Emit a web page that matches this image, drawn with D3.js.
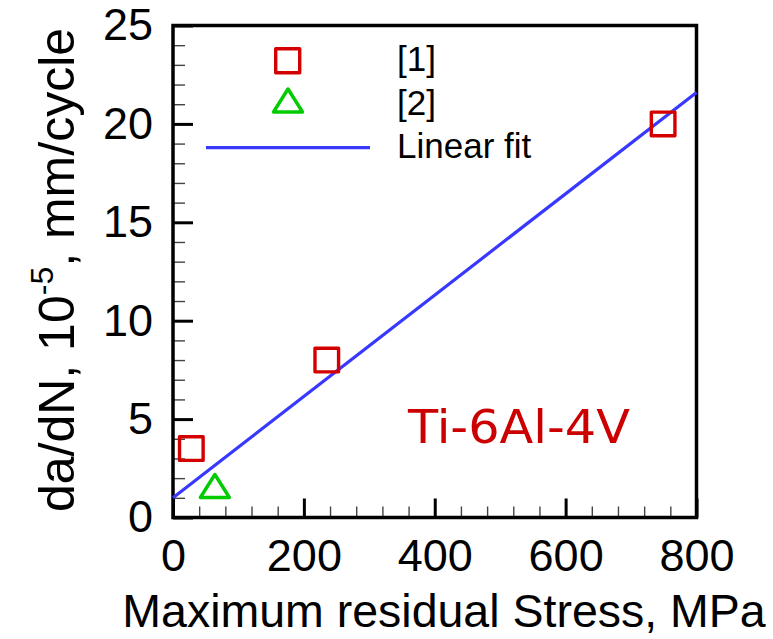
<!DOCTYPE html>
<html>
<head>
<meta charset="utf-8">
<script src="https://cdn.jsdelivr.net/npm/d3@7"></script>
<style>
  body { margin: 0; background: #fff; }
  svg { display: block; }
  .tickText { font-family: Arial, "Liberation Sans", sans-serif; font-size: 45px; fill: #000; }
  .axisTitle { font-family: Arial, "Liberation Sans", sans-serif; font-size: 46.5px; fill: #000; }
  .legendText { font-family: Arial, "Liberation Sans", sans-serif; font-size: 35px; fill: #000; }
</style>
</head>
<body>
<script>

// data
var stressRef1 = [28, 235, 749];
var rateRef1 = [3.5, 8.0, 20.0];
var stressRef2 = [64];
var rateRef2 = [1.6];

// linear fit, end points
var fitStress = [0, 800];
var fitRate = [1.0, 21.6];

// axis ticks
var xMajorTicks = [0, 200, 400, 600, 800];
var xMinorTicks = [40, 80, 120, 160, 240, 280, 320, 360, 440, 480, 520, 560, 640, 680, 720, 760];
var yMajorTicks = [0, 5, 10, 15, 20, 25];
var yMinorTicks = [1, 2, 3, 4, 6, 7, 8, 9, 11, 12, 13, 14, 16, 17, 18, 19, 21, 22, 23, 24];

var legendLabels = ["[1]", "[2]", "Linear fit"];

// svg size
var w = 773;
var h = 639;

var svg = d3.select("body")
  .append("svg")
  .attr("width", w)
  .attr("height", h);

// scales
var scaleX = d3.scaleLinear()
  .domain([0, 800])
  .range([173, 696.5]);

var scaleY = d3.scaleLinear()
  .domain([0, 25])
  .range([517.5, 25.5]);

var red = "#d40000";
var green = "#00cc00";
var blue = "#3838ff";

// minor ticks
svg.append("g")
  .attr("transform", "translate(0," + scaleY(0) + ")")
  .call(d3.axisBottom(scaleX).tickValues(xMinorTicks).tickSize(-11).tickFormat(""))
  .call(function(g) { g.select(".domain").remove(); })
  .selectAll("line")
  .attr("stroke", "#444")
  .attr("stroke-width", 1.4);

svg.append("g")
  .attr("transform", "translate(" + scaleX(0) + ",0)")
  .call(d3.axisLeft(scaleY).tickValues(yMinorTicks).tickSize(-12).tickFormat(""))
  .call(function(g) { g.select(".domain").remove(); })
  .selectAll("line")
  .attr("stroke", "#444")
  .attr("stroke-width", 1.4);

// major ticks and labels
var xAxis = svg.append("g")
  .attr("transform", "translate(0," + scaleY(0) + ")")
  .call(d3.axisBottom(scaleX).tickValues(xMajorTicks).tickSize(-19).tickPadding(22).tickFormat(d3.format("d")));
xAxis.select(".domain").remove();
xAxis.selectAll("line").attr("stroke", "#000").attr("stroke-width", 3);
xAxis.selectAll("text").attr("class", "tickText").attr("font-size", null).attr("font-family", null);

var yAxis = svg.append("g")
  .attr("transform", "translate(" + scaleX(0) + ",0)")
  .call(d3.axisLeft(scaleY).tickValues(yMajorTicks).tickSize(-20).tickPadding(20).tickFormat(d3.format("d")));
yAxis.select(".domain").remove();
yAxis.selectAll("line").attr("stroke", "#000").attr("stroke-width", 3);
yAxis.selectAll("text").attr("class", "tickText").attr("font-size", null).attr("font-family", null);

// frame
svg.append("rect")
  .attr("x", scaleX(0))
  .attr("y", scaleY(25))
  .attr("width", scaleX(800) - scaleX(0))
  .attr("height", scaleY(0) - scaleY(25))
  .attr("fill", "none")
  .attr("stroke", "#000")
  .attr("stroke-width", 3.5);

// linear fit line
var line = d3.line()
  .x(function(d) { return scaleX(d[0]); })
  .y(function(d) { return scaleY(d[1]); });

svg.append("path")
  .datum(d3.zip(fitStress, fitRate))
  .attr("d", line)
  .attr("fill", "none")
  .attr("stroke", blue)
  .attr("stroke-width", 3.2);

// triangle path centred on its box
function triangle(cx, cy) {
  var hw = 14.5, hh = 11.5;
  return "M" + cx + "," + (cy - hh) + "L" + (cx + hw) + "," + (cy + hh) + "L" + (cx - hw) + "," + (cy + hh) + "Z";
}

// squares [1]
svg.selectAll(".sq")
  .data(d3.zip(stressRef1, rateRef1))
  .enter()
  .append("rect")
  .attr("class", "sq")
  .attr("x", function(d) { return scaleX(d[0]) - 11.8; })
  .attr("y", function(d) { return scaleY(d[1]) - 11.8; })
  .attr("width", 23.6)
  .attr("height", 23.6)
  .attr("fill", "none")
  .attr("stroke", red)
  .attr("stroke-width", 3.4)
  .attr("stroke-linejoin", "round");

// triangles [2]
svg.selectAll(".tri")
  .data(d3.zip(stressRef2, rateRef2))
  .enter()
  .append("path")
  .attr("class", "tri")
  .attr("d", function(d) { return triangle(scaleX(d[0]), scaleY(d[1])); })
  .attr("fill", "none")
  .attr("stroke", green)
  .attr("stroke-width", 3.4)
  .attr("stroke-linejoin", "round");

// legend
svg.append("rect")
  .attr("x", 287.7 - 12)
  .attr("y", 60.7 - 12)
  .attr("width", 24)
  .attr("height", 24)
  .attr("fill", "none")
  .attr("stroke", red)
  .attr("stroke-width", 3.4)
  .attr("stroke-linejoin", "round");

svg.append("path")
  .attr("d", triangle(288, 100.5))
  .attr("fill", "none")
  .attr("stroke", green)
  .attr("stroke-width", 3.4)
  .attr("stroke-linejoin", "round");

svg.append("line")
  .attr("x1", 206)
  .attr("x2", 370)
  .attr("y1", 147.7)
  .attr("y2", 147.7)
  .attr("stroke", blue)
  .attr("stroke-width", 3.2);

svg.selectAll(".legendText")
  .data(legendLabels)
  .enter()
  .append("text")
  .attr("class", "legendText")
  .attr("x", 397)
  .attr("y", function(d, i) { return [71, 114.5, 158][i]; })
  .text(function(d) { return d; });

// material label
svg.append("text")
  .attr("x", 408)
  .attr("y", 443)
  .attr("fill", "#cc0000")
  .style("font-family", "'Comic Sans MS', 'DejaVu Sans', sans-serif")
  .style("font-size", "47px")
  .attr("textLength", 222)
  .attr("lengthAdjust", "spacingAndGlyphs")
  .text("Ti-6Al-4V");

// x axis title
svg.append("text")
  .attr("class", "axisTitle")
  .attr("x", 444)
  .attr("y", 627)
  .style("text-anchor", "middle")
  .text("Maximum residual Stress, MPa");

// y axis title
var yTitle = svg.append("text")
  .attr("class", "axisTitle")
  .attr("transform", "translate(74," + 270 + ") rotate(-90)")
  .style("text-anchor", "middle")
  .style("font-size", "50px");
yTitle.append("tspan").text("da/dN, 10");
yTitle.append("tspan").attr("dy", -21).style("font-size", "32px").text("-5");
yTitle.append("tspan").attr("dy", 21).text(", mm/cycle");

</script>
</body>
</html>
